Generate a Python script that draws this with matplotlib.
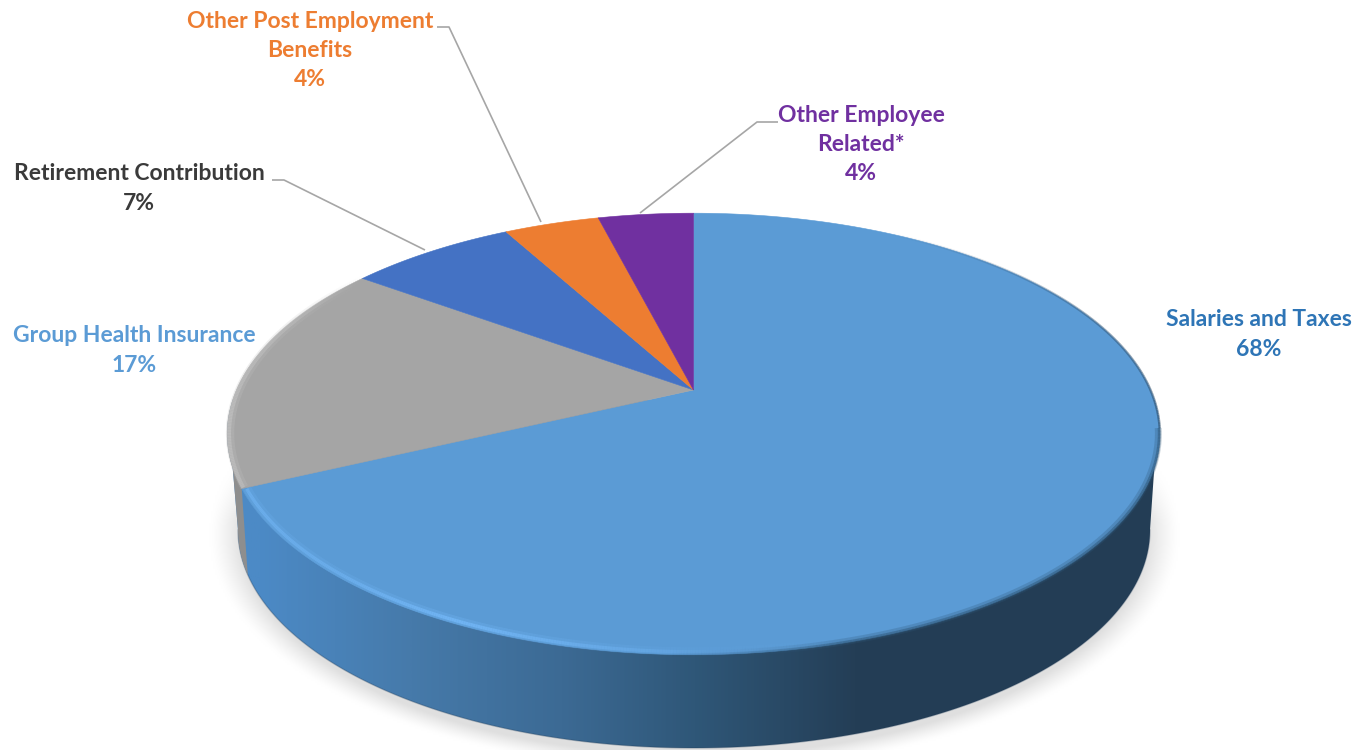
# -*- coding: utf-8 -*-
import numpy as np
import matplotlib
matplotlib.use('Agg')
import matplotlib.pyplot as plt
from matplotlib.collections import LineCollection
from matplotlib.colors import LinearSegmentedColormap, to_rgb
from matplotlib.patches import Polygon

# budget shares, clockwise from 12 o'clock
categories = ['Salaries and Taxes', 'Group Health Insurance', 'Retirement Contribution',
              'Other Post Employment\nBenefits', 'Other Employee\nRelated*']
shares = [68, 17, 7, 4, 4]
slice_colors = ['#5b9bd5', '#a5a5a5', '#4472c4', '#ed7d31', '#7030a0']
label_colors = ['#2e75b6', '#5b9bd5', '#3a3a3a', '#ed7d31', '#7030a0']
label_x = [1259, 134, 139, 310, 861]
label_y = [334.5, 350.5, 188.5, 50.5, 144.5]

# pie top drawn as a circle under a perspective projection
cx, cy = 693.5, 390
a, b, k = 457, 212, 0.199
# lower rim of the pie body
base_x, base_y, base_a, base_b = 694, 530, 456, 218


def project(theta, r=1.0):
    x = r*np.sin(theta)
    y = -r*np.cos(theta)
    w = 1 - k*y
    return cx + a*x/w, cy + b*y/w


def rim_lines(ax, t_deg, alpha, color, lw, r=1.0):
    # stroke along the rim with a varying opacity
    t = np.radians(np.asarray(t_deg))
    xs, ys = project(t, r)
    pts = np.column_stack([xs, ys])
    segs = np.stack([pts[:-1], pts[1:]], axis=1)
    rgb = to_rgb(color)
    cols = [(rgb[0], rgb[1], rgb[2], v) for v in alpha[:-1]]
    ax.add_collection(LineCollection(segs, colors=cols, linewidths=lw, capstyle='butt', zorder=5))


fig = plt.figure(figsize=(13.71, 7.5), dpi=100)
ax = fig.add_axes([0, 0, 1, 1])
ax.set_xlim(0, 1371)
ax.set_ylim(750, 0)
ax.axis('off')

# soft shadow under the body
gx, gy = np.meshgrid(np.arange(0, 1371, 2), np.arange(0, 750, 2))
rr = np.sqrt(((gx - base_x)/(base_a + 6))**2 + ((gy - base_y - 4)/(base_b + 6))**2)
shade = np.clip((1.05 - rr)/0.07, 0, 1)**1.3*0.82
shade = shade*np.clip((gy - 440)/80, 0, 1)
shadow_cmap = LinearSegmentedColormap.from_list('shadow', ['#ffffff', '#d8d8d8'])
ax.imshow(shade, cmap=shadow_cmap, vmin=0, vmax=1, extent=(0, 1371, 750, 0),
          aspect='auto', zorder=1, interpolation='bilinear')

# body outline: lower half of the base joined to the upper half of the top
t_base = np.radians(np.linspace(0, 180, 240))
t_top = np.radians(np.linspace(-110, 110, 300))
top_x, top_y = project(t_top)
base_edge_x = base_x + base_a*np.cos(t_base)
base_edge_y = base_y + base_b*np.sin(t_base)
body = Polygon(np.column_stack([np.r_[base_edge_x, top_x], np.r_[base_edge_y, top_y]]), closed=True,
               transform=ax.transData, facecolor='none', edgecolor='none')
ax.add_patch(body)

# side wall shading, left to right
stops = [0.0, 0.04, 0.20, 0.36, 0.50, 0.67, 1.0]
stop_cols = ['#4c8ac6', '#4c8ac6', '#467aaa', '#3c6a94', '#2f5778', '#243e56', '#233d55']
wall_cmap = LinearSegmentedColormap.from_list('wall', list(zip(stops, stop_cols)))
wall = ax.imshow(np.linspace(0, 1, 512)[None, :], cmap=wall_cmap, extent=(220, 1170, 750, 400),
                 aspect='auto', zorder=2)
wall.set_clip_path(body)

# darker line along the foot of the wall
ax.plot(base_edge_x, base_edge_y, color='#1f3a55', lw=1.0, alpha=0.3, zorder=2.5)

# grey side left of the first seam
seam_t = 2*np.pi*shares[0]/sum(shares)
seam_x, seam_y = project(seam_t)
grey_side = Polygon([(200, 380), (seam_x, seam_y), (seam_x + 7, seam_y + 100), (200, 640)],
                    closed=True, facecolor='#8e8e8e', edgecolor='none', zorder=3)
ax.add_patch(grey_side)
grey_side.set_clip_path(body)

# top face
start = 0.0
total = sum(shares)
for share, color in zip(shares, slice_colors):
    t = np.linspace(start, start + 2*np.pi*share/total, 200)
    xs, ys = project(t)
    ax.add_patch(Polygon(np.column_stack([np.r_[cx, xs], np.r_[cy, ys]]), closed=True,
                         facecolor=color, edgecolor=color, linewidth=0.4, zorder=4))
    start = t[-1]

# bevel on the rim, blurred by stacking wider and fainter strokes
t_blue = np.linspace(100, 245, 400)
dark = np.interp(t_blue, [100, 165, 182, 245], [0.55, 0.5, 0.0, 0.0])
rim_lines(ax, t_blue, dark*0.5, '#2f5778', 5.0, 0.997)
rim_lines(ax, t_blue, dark, '#2f5778', 2.2, 0.999)
t_high = np.linspace(160, 244.5, 300)
glow = np.interp(t_high, [160, 180, 205, 222, 244.5], [0, 0.2, 0.8, 0.5, 0.55])
rim_lines(ax, t_high, glow*0.35, '#74b8f8', 6.0, 0.990)
rim_lines(ax, t_high, glow, '#74b8f8', 2.4, 0.991)
t_grey = np.linspace(245, 306, 160)
sheen = np.interp(t_grey, [245, 258, 290, 306], [0.6, 0.8, 0.5, 0.0])
rim_lines(ax, t_grey, sheen*0.4, '#c0c0c0', 6.0, 0.994)
rim_lines(ax, t_grey, sheen, '#c0c0c0', 2.8, 0.996)
t_edge = np.linspace(30, 100, 160)
rim_lines(ax, t_edge, np.interp(t_edge, [30, 70, 100], [0, 0.45, 0.6]), '#2b4a66', 1.8)

# leader lines
leaders = [([272, 284, 425], [180, 180, 250]),
           ([437, 449, 541], [27, 27, 222]),
           ([778, 757, 640], [122, 122, 213])]
for lx, ly in leaders:
    ax.plot(lx, ly, color='#a6a6a6', lw=1.2, zorder=6, solid_capstyle='butt')

# labels
for name, share, color, x, y in zip(categories, shares, label_colors, label_x, label_y):
    ax.text(x, y, f'{name}\n{share}%', color=color, ha='center', va='center',
            family='Lato', weight='bold', fontsize=16.5, linespacing=1.5, zorder=7)

fig.savefig('out.png', dpi=100)
